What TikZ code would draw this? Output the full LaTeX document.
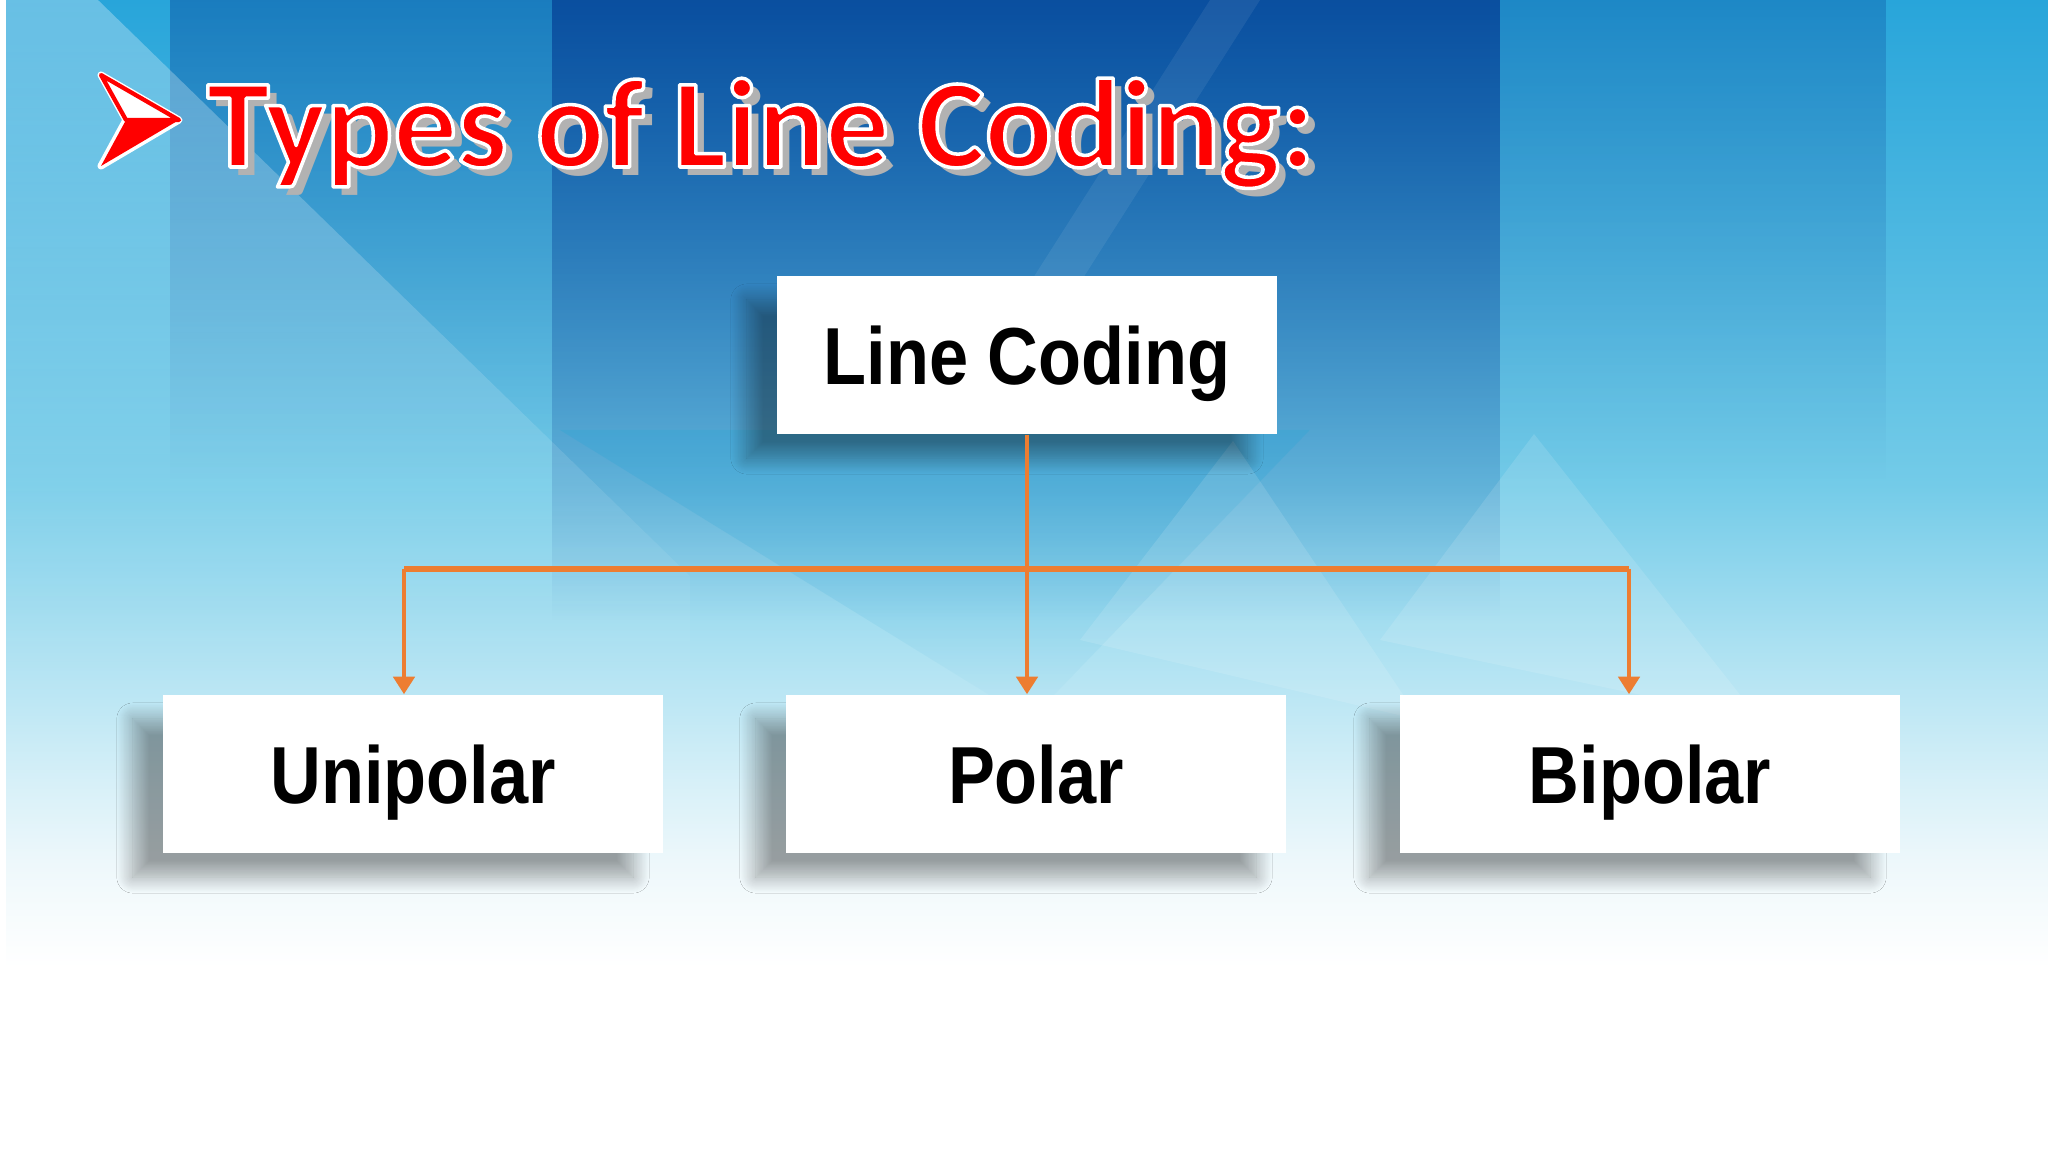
\documentclass[tikz,border=0pt]{standalone}
\usepackage{fontspec}
\setmainfont{Liberation Sans}
\newfontfamily\titlefont{Carlito}
\newfontfamily\boxfont{Liberation Sans}[FakeStretch=0.87]
\usetikzlibrary{arrows.meta,shadows.blur,fadings}

\definecolor{lineorange}{RGB}{237,125,49}
\definecolor{titlered}{RGB}{255,0,0}
\definecolor{bgtop}{RGB}{40,165,218}
\definecolor{bgupper}{RGB}{115,203,232}
\definecolor{bgmid}{RGB}{175,226,242}
\definecolor{bgpale}{RGB}{215,240,248}
\definecolor{bglow}{RGB}{238,248,251}
\definecolor{bgdark}{RGB}{0,50,140}
\definecolor{bgcyan}{RGB}{40,165,215}

% stops lie between 25bp and 75bp, the part that \shade maps onto the path
\pgfdeclareverticalshading{bgfade}{100bp}{color(0bp)=(white); color(33bp)=(white); color(37.5bp)=(bglow); color(41bp)=(bgpale); color(46.5bp)=(bgmid); color(54bp)=(bgupper); color(75bp)=(bgtop); color(100bp)=(bgtop)}
\tikzfading[name=fadedown,top color=transparent!0,bottom color=transparent!100]

% white outline round the title letters
\newcommand{\outlined}[1]{\special{pdf:literal direct 1 1 1 RG 2 Tr 1 w}#1\special{pdf:literal direct 0 Tr}}

\begin{document}
\begin{tikzpicture}[x=0.01cm,y=-0.01cm,line join=round,
		box/.style={fill=white,minimum width=5cm,minimum height=1.58cm,inner sep=0pt,
			text height=16.5pt,text depth=0pt,
			font=\boxfont\bfseries\fontsize{23}{26}\selectfont,
			blur shadow={shadow xshift=-3mm,shadow yshift=-2.4mm,shadow blur radius=1.6mm,
				shadow blur steps=20,shadow opacity=36}},
		link/.style={draw=lineorange,line width=1.3pt,-{Triangle[length=5pt,width=6pt]}},
		bar/.style={draw=lineorange,line width=1.5pt}]
	\useasboundingbox (0,0) rectangle (2048,1152);
	
	% background
	\shade[shading=bgfade] (0,0) rectangle (2048,1152);
	\fill[bgdark,path fading=fadedown,fill opacity=.35] (170,0) rectangle (552,480);
	\fill[bgdark,path fading=fadedown,fill opacity=.75] (552,0) rectangle (1500,620);
	\fill[bgdark,path fading=fadedown,fill opacity=.25] (1500,0) rectangle (1886,480);
	\fill[white,opacity=.07] (1210,0) -- (1260,0) -- (1050,330) -- (1000,330) -- cycle;
	\fill[white,path fading=fadedown,fill opacity=.3] (0,0) -- (98,0) -- (690,576) -- (690,720) -- (0,720) -- cycle;
	\fill[bgcyan,path fading=fadedown,fill opacity=.3] (560,430) -- (1310,430) -- (1030,720) -- cycle;
	\fill[white,opacity=.12] (1080,640) -- (1233,441) -- (1420,720) -- cycle;
	\fill[white,opacity=.12] (1380,640) -- (1534,434) -- (1760,720) -- cycle;
	\fill[white] (0,0) rectangle (6,1152);
	
	% title
	\coordinate (AT) at (101,75);
	\coordinate (AP) at (179,120);
	\coordinate (AB) at (101,166);
	\coordinate (AN) at (126,120);
	\draw[white,line width=2pt] (AT)--(AP)--(AB)--(AN)--cycle;
	\fill[titlered] (AN)--(AP)--(AB)--cycle;
	\filldraw[fill=white,draw=titlered,line width=1.2pt] (AT)--(AP)--(AN)--cycle;
	\node[anchor=base west,inner sep=0pt,text=titlered,font=\titlefont\bfseries\fontsize{36}{40}\selectfont] (title) at (206,167)
		{\makebox[0pt][l]{\hspace{2.5pt}\raisebox{-2.5pt}{\color{black!30}Types of Line Coding:}}\outlined{Types of Line Coding:}};
	
	% tree
	\node[box] (lc) at (1027,355) {Line Coding};
	\node[box] (uni) at (413,774) {Unipolar};
	\node[box] (pol) at (1036,774) {Polar};
	\node[box] (bip) at (1650,774) {Bipolar};
	
	\coordinate (jl) at (404,569);
	\coordinate (jr) at (1629,569);
	\draw[bar] (jl) -- (jr);
	\draw[link] (lc.south) -- (lc.south |- pol.north);
	\draw[link] (jl) -- (jl |- uni.north);
	\draw[link] (jr) -- (jr |- bip.north);
\end{tikzpicture}
\end{document}
